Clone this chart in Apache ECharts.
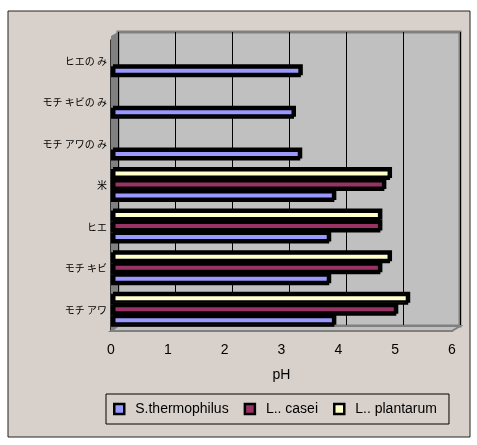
<!DOCTYPE html>
<html><head><meta charset="utf-8">
<script src="https://cdn.jsdelivr.net/npm/echarts@6/dist/echarts.min.js"></script>
<style>html,body{margin:0;padding:0;background:#fff}#c{width:477px;height:445px}</style>
</head><body><div id="c"></div>
<script>
var categories = ['モチ アワ', 'モチ キビ', 'ヒエ', '米', 'モチ アワの み', 'モチ キビの み', 'ヒエの み'];
var sThermophilus = [3.93, 3.84, 3.84, 3.93, 3.33, 3.22, 3.34];
var lCasei = [5.02, 4.74, 4.74, 4.81, null, null, null];
var lPlantarum = [5.23, 4.91, 4.74, 4.91, null, null, null];
var seriesNames = ['S.thermophilus', 'L.. casei', 'L.. plantarum'];
var xTicks = [0, 1, 2, 3, 4, 5, 6];
var colors = ['#9999ff', '#993366', '#ffffcc'];

var chart = echarts.init(document.getElementById('c'), null, {renderer: 'canvas'});
var bg = '#d8d1cb';
function barSeries(name, data, color) {
  return {
    name: name, type: 'bar', xAxisIndex: 1, yAxisIndex: 1, data: data,
    barWidth: 11, barGap: '0%',
    itemStyle: {color: color, borderColor: '#000', borderWidth: 2.5,
      shadowColor: '#000', shadowOffsetX: 2, shadowOffsetY: -2, shadowBlur: 0},
    emphasis: {disabled: true}, z: 3
  };
}
chart.setOption({
  animation: false,
  backgroundColor: '#fff',
  textStyle: {fontFamily: 'Liberation Sans'},
  graphic: [
    {type: 'rect', shape: {x: 8, y: 11, width: 462, height: 426}, style: {fill: bg, stroke: '#222', lineWidth: 1}, z: -10},
    {type: 'polygon', shape: {points: [[111, 36], [118, 32], [118, 326], [111, 331]]}, style: {fill: '#808080'}, z: 1},
    {type: 'polygon', shape: {points: [[111, 331], [118, 326], [460, 326], [452, 331]]}, style: {fill: '#c0c0c0', stroke: '#808080', lineWidth: 2}, z: 1}
  ],
  grid: [
    {left: 118, right: 17, top: 32, bottom: 119, show: true, backgroundColor: '#c0c0c0', borderColor: '#808080', borderWidth: 3, z: 0},
    {left: 111, right: 25, top: 40, bottom: 114, z: 2}
  ],
  xAxis: [
    {gridIndex: 0, type: 'value', min: xTicks[0], max: xTicks[xTicks.length - 1], interval: 1,
      axisLine: {show: false}, axisTick: {show: false}, axisLabel: {show: false},
      splitLine: {show: true, lineStyle: {color: '#000', width: 1}}},
    {gridIndex: 1, type: 'value', min: xTicks[0], max: xTicks[xTicks.length - 1], interval: 1,
      name: 'pH', nameLocation: 'middle', nameGap: 37,
      nameTextStyle: {color: '#000', fontSize: 14, fontFamily: 'Liberation Sans'},
      axisLine: {show: true, lineStyle: {color: '#000', width: 1.5}},
      axisTick: {show: true, inside: true, length: 4, lineStyle: {color: '#000'}},
      axisLabel: {color: '#000', fontSize: 14, margin: 12, fontFamily: 'Liberation Sans'},
      splitLine: {show: false}}
  ],
  yAxis: [
    {gridIndex: 0, type: 'value', show: false, splitLine: {show: false}},
    {gridIndex: 1, type: 'category', data: categories,
      axisLine: {show: true, lineStyle: {color: '#000', width: 1.5}},
      axisTick: {show: true, inside: true, length: 5, lineStyle: {color: '#555'}},
      axisLabel: {color: '#000', fontSize: 10, margin: 4, fontFamily: 'Noto Sans CJK JP'},
      splitLine: {show: false}}
  ],
  legend: {
    data: seriesNames, left: 106, top: 394, width: 345,
    orient: 'horizontal', backgroundColor: bg, borderColor: '#000', borderWidth: 1,
    padding: [8, 12, 8, 7], itemGap: 15, itemWidth: 10, itemHeight: 10, icon: 'rect',
    itemStyle: {borderColor: '#000', borderWidth: 2.5, shadowBlur: 0, shadowOffsetX: 0, shadowOffsetY: 0},
    textStyle: {color: '#000', fontSize: 14, fontFamily: 'Liberation Sans', padding: [0, 0, 0, 6]}
  },
  series: [
    barSeries(seriesNames[2], lPlantarum, colors[2]),
    barSeries(seriesNames[1], lCasei, colors[1]),
    barSeries(seriesNames[0], sThermophilus, colors[0])
  ]
});
</script></body></html>
